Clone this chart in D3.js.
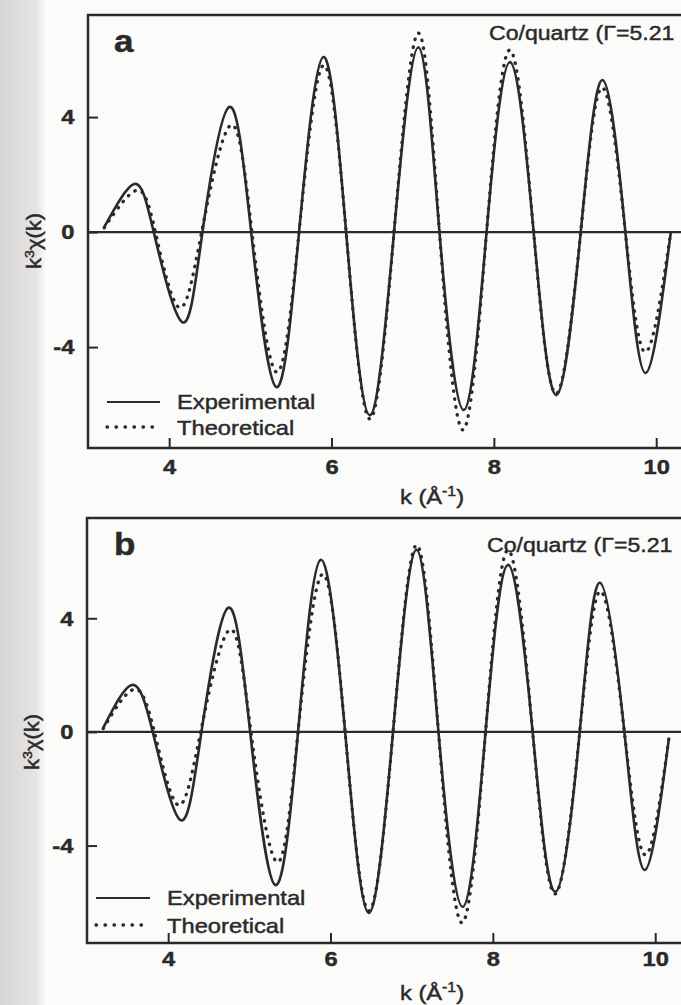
<!DOCTYPE html>
<html><head><meta charset="utf-8">
<script src="https://cdn.jsdelivr.net/npm/d3@7"></script>
<style>
html,body{margin:0;padding:0;background:#fbfbf9;overflow:hidden}
svg{display:block}
text{font-family:"Liberation Sans",Arial,sans-serif;fill:#2a2a2a;stroke:#2a2a2a;stroke-width:0.45px}
</style></head><body>
<svg id="c" width="681" height="1005"></svg>
<script>
// ---- data ----
const kTicks = [4, 6, 8, 10];
const yTicks = [-4, 0, 4];
const panelLabels = ["a", "b"];
const sampleLabel = "Co/quartz (Γ=5.21";
const seriesNames = ["Experimental", "Theoretical"];

// panel a
const kA_exp = [3.20,3.57,3.81,4.16,4.41,4.74,5.01,5.32,5.60,5.90,6.18,6.47,6.77,7.07,7.33,7.63,7.91,8.20,8.49,8.77,9.07,9.34,9.62,9.87,10.18];
const yA_exp = [0.17,1.67,0,-3.13,0,4.35,0,-5.39,0,6.09,0,-6.37,0,6.43,0,-6.19,0,5.91,0,-5.67,0,5.29,0,-4.90,0.0];
const kA_th  = [3.20,3.60,3.83,4.12,4.40,4.76,5.02,5.32,5.60,5.90,6.18,6.47,6.77,7.07,7.33,7.62,7.91,8.20,8.49,8.77,9.07,9.34,9.62,9.87,10.18];
const yA_th  = [0.15,1.45,0,-2.62,0,3.72,0,-4.87,0,5.80,0,-6.50,0,6.92,0,-6.88,0,6.33,0,-5.62,0,5.02,0,-4.17,0.0];
// panel b
const kB_exp = [3.20,3.55,3.81,4.15,4.41,4.74,5.01,5.32,5.60,5.88,6.18,6.47,6.77,7.06,7.33,7.63,7.91,8.19,8.49,8.77,9.07,9.32,9.62,9.87,10.17];
const yB_exp = [0.14,1.65,0,-3.10,0,4.37,0,-5.39,0,6.06,0,-6.37,0,6.41,0,-6.16,0,5.88,0,-5.63,0,5.25,0,-4.86,-0.2];
const kB_th  = [3.20,3.58,3.83,4.12,4.40,4.76,5.02,5.34,5.60,5.90,6.18,6.47,6.77,7.06,7.33,7.62,7.91,8.19,8.49,8.77,9.07,9.33,9.62,9.88,10.17];
const yB_th  = [0.12,1.50,0,-2.57,0,3.60,0,-4.58,0,5.55,0,-6.30,0,6.58,0,-6.72,0,6.40,0,-5.70,0,4.95,0,-4.33,-0.2];

const SX = 1.13;      // horizontal stretch of the scanned lettering
const INK = "#2a2a2a";
const svg = d3.select("#c");

// scanned page: grey strip on the left
const grad = svg.append("defs").append("linearGradient").attr("id","strip");
grad.append("stop").attr("offset","0%").attr("stop-color","#d6d4d5");
grad.append("stop").attr("offset","80%").attr("stop-color","#e6e5e5");
grad.append("stop").attr("offset","100%").attr("stop-color","#fbfbf9");
svg.append("rect").attr("x",0).attr("y",0).attr("width",46).attr("height",1005).attr("fill","url(#strip)");

function zip(ks, vs){ return ks.map((k,i)=>({k, v:vs[i]})); }
const fmt = d => String(d);

function panel(cfg){
  const x = d3.scaleLinear().domain([3, 10.5]).range(cfg.xr);
  const y = d3.scaleLinear().domain(cfg.yd).range(cfg.yr);
  const g = svg.append("g");
  const x0 = x(3), xR = 690, yT = y(cfg.yd[1]), yB = y(cfg.yd[0]);

  g.append("path").attr("d", `M${xR},${yT}H${x0}V${yB}H${xR}`)
    .attr("fill","none").attr("stroke",INK).attr("stroke-width",2.5);
  g.append("line").attr("x1",x0).attr("x2",xR).attr("y1",y(0)).attr("y2",y(0))
    .attr("stroke",INK).attr("stroke-width",2.2);

  // x axis
  const gx = g.append("g").attr("transform",`translate(0,${yB})`)
    .call(d3.axisBottom(x).tickValues(kTicks).tickSize(-10).tickPadding(cfg.xpad).tickFormat(fmt));
  gx.select(".domain").remove();
  gx.selectAll("line").attr("stroke",INK).attr("stroke-width",2);
  gx.selectAll("text").attr("transform",`scale(${SX},1)`)
    .style("font-size","21px").style("font-weight","bold").style("fill",INK);

  // y axis
  const gy = g.append("g").attr("transform",`translate(${x0},0)`)
    .call(d3.axisLeft(y).tickValues(yTicks).tickSize(-10).tickPadding(12).tickFormat(fmt));
  gy.select(".domain").remove();
  gy.selectAll("line").attr("stroke",INK).attr("stroke-width",2);
  gy.selectAll("text").attr("transform",`scale(${SX},1)`)
    .style("font-size","21px").style("font-weight","bold").style("fill",INK);

  const line = d3.line().x(d=>x(d.k)).y(d=>y(d.v)).curve(d3.curveNatural);
  g.append("path").datum(zip(cfg.kExp, cfg.yExp)).attr("d",line)
    .attr("fill","none").attr("stroke",INK).attr("stroke-width",2.6);
  g.append("path").datum(zip(cfg.kTh, cfg.yTh)).attr("d",line)
    .attr("fill","none").attr("stroke",INK).attr("stroke-width",3.3)
    .attr("stroke-linecap","round").attr("stroke-dasharray","0.5,7.5");

  // panel letter
  g.append("text").attr("transform",`translate(${cfg.letter[0]},${cfg.letter[1]}) scale(${SX},1)`)
    .style("font-size","31px").style("font-weight","bold").text(cfg.label);
  // sample label (fits just inside the right edge)
  g.append("text").attr("transform",`translate(${cfg.head[0]},${cfg.head[1]}) scale(1.1,1)`)
    .style("font-size","21px").text(sampleLabel);

  // legend
  const L = cfg.legend;
  g.append("line").attr("x1",L.x1).attr("x2",L.x2).attr("y1",L.y1).attr("y2",L.y1)
    .attr("stroke",INK).attr("stroke-width",2.2);
  g.append("line").attr("x1",L.x1).attr("x2",L.x2-4).attr("y1",L.y2).attr("y2",L.y2)
    .attr("stroke",INK).attr("stroke-width",3.3).attr("stroke-linecap","round").attr("stroke-dasharray","0.5,8.5");
  g.append("text").attr("transform",`translate(${L.tx},${L.y1+7}) scale(${SX},1)`)
    .style("font-size","21px").text(seriesNames[0]);
  g.append("text").attr("transform",`translate(${L.tx},${L.y2+8}) scale(${SX},1)`)
    .style("font-size","21px").text(seriesNames[1]);

  // axis titles
  const xt = g.append("text").attr("text-anchor","middle")
    .attr("transform",`translate(${cfg.xtitle[0]},${cfg.xtitle[1]}) scale(${SX},1)`)
    .style("font-size","21px");
  xt.append("tspan").text("k (Å");
  xt.append("tspan").attr("dy",-8).style("font-size","14px").text("-1");
  xt.append("tspan").attr("dy",8).text(")");

  const yt = g.append("text").attr("text-anchor","middle")
    .attr("transform",`translate(${cfg.ytitle[0]},${cfg.ytitle[1]}) rotate(-90) scale(1.1,1.05)`)
    .style("font-size","20px");
  yt.append("tspan").text("k");
  yt.append("tspan").attr("dy",-7).style("font-size","13px").text("3");
  yt.append("tspan").attr("dy",7).text("χ(k)");
}

panel({
  label: panelLabels[0], xr:[88, 696.8], yd:[-7.51, 7.55], yr:[448, 15], xpad:11,
  kExp:kA_exp, yExp:yA_exp, kTh:kA_th, yTh:yA_th,
  letter:[114,52], head:[489,40],
  legend:{x1:107, x2:160, y1:402, y2:427, tx:177},
  xtitle:[432,504], ytitle:[41,241]
});
panel({
  label: panelLabels[1], xr:[87, 695.8], yd:[-7.43, 7.53], yr:[943, 518], xpad:8,
  kExp:kB_exp, yExp:yB_exp, kTh:kB_th, yTh:yB_th,
  letter:[114,555], head:[487,552],
  legend:{x1:96, x2:150, y1:898, y2:925, tx:167},
  xtitle:[432,1000], ytitle:[39,742]
});
</script>
</body></html>
